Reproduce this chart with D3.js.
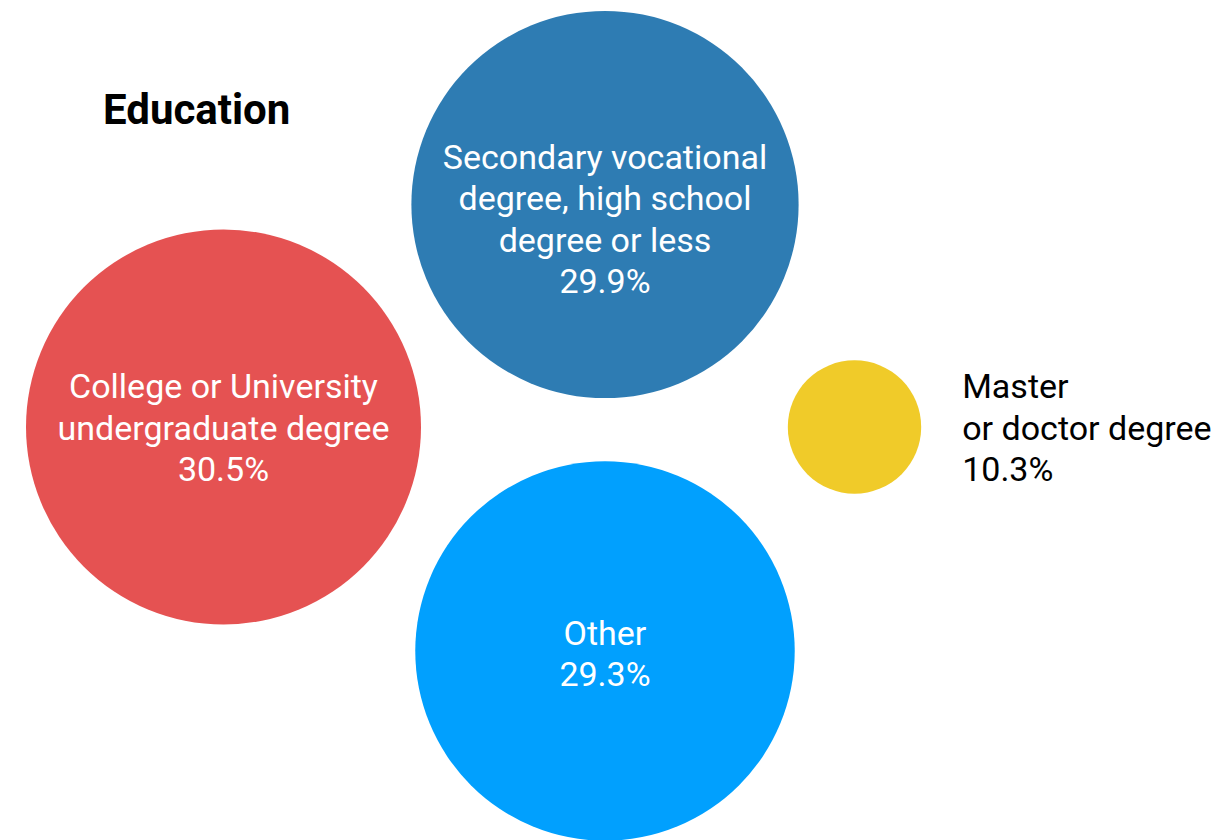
<!DOCTYPE html>
<html>
<head>
<meta charset="utf-8">
<script src="https://cdn.jsdelivr.net/npm/d3@7"></script>
<style>
  html, body { margin: 0; padding: 0; background: #ffffff; }
  svg { display: block; font-family: Roboto, "Noto Sans", sans-serif; }
</style>
</head>
<body>
<svg id="chart" width="1219" height="840"></svg>
<script>
// Education breakdown (share of respondents, %)
const categories = [
  "Secondary vocational degree, high school degree or less",
  "College or University undergraduate degree",
  "Other",
  "Master or doctor degree"
];
const values = [29.9, 30.5, 29.3, 10.3];
const labelLines = [
  ["Secondary vocational", "degree, high school", "degree or less"],
  ["College or University", "undergraduate degree"],
  ["Other"],
  ["Master", "or doctor degree"]
];
const colors = ["#2e7cb3", "#e55252", "#01a0fe", "#f0cb29"];

const W = 1219, H = 840;
const svg = d3.select("#chart");

// bubble radius grows linearly with the share
const r = d3.scaleLinear().domain([0, d3.max(values)]).range([0, 197.5]);

// arrangement: a middle column (top / bottom) with one bubble on each side
const cx0 = 605, cy0 = 427;
const placement = [
  { dx: 0, dy: -222.5, labelShift: 14, inside: true },
  { dx: -381.5, dy: 0, labelShift: 0, inside: true },
  { dx: 0, dy: 224, labelShift: 2, inside: true },
  { dx: 249.5, dy: 0, labelShift: 0, inside: false }
];

const nodes = categories.map((c, i) => ({
  name: c,
  value: values[i],
  lines: labelLines[i].concat([d3.format(".1f")(values[i]) + "%"]),
  color: colors[i],
  x: cx0 + placement[i].dx,
  y: cy0 + placement[i].dy,
  r: r(values[i]),
  shift: placement[i].labelShift,
  inside: placement[i].inside
}));

svg.append("g")
  .selectAll("circle")
  .data(nodes)
  .join("circle")
  .attr("cx", d => d.x)
  .attr("cy", d => d.y)
  .attr("r", d => d.r)
  .attr("fill", d => d.color);

const fontSize = 34, lineH = 41.3;
const textX = d => d.inside ? d.x : d.x + d.r + 41;

const labels = svg.append("g")
  .selectAll("text")
  .data(nodes)
  .join("text")
  .attr("font-size", fontSize)
  .attr("fill", d => d.inside ? "#ffffff" : "#000000")
  .attr("text-anchor", d => d.inside ? "middle" : "start")
  .attr("x", textX)
  .attr("y", d => d.y - (d.lines.length - 1) / 2 * lineH + 12.5 + d.shift);

labels.selectAll("tspan")
  .data(d => d.lines.map(l => ({ text: l, parent: d })))
  .join("tspan")
  .attr("x", d => textX(d.parent))
  .attr("dy", (d, i) => i === 0 ? 0 : lineH)
  .text(d => d.text);

svg.append("text")
  .attr("x", 103)
  .attr("y", 124)
  .attr("font-size", 42)
  .attr("font-weight", 700)
  .attr("fill", "#000000")
  .text("Education");
</script>
</body>
</html>
